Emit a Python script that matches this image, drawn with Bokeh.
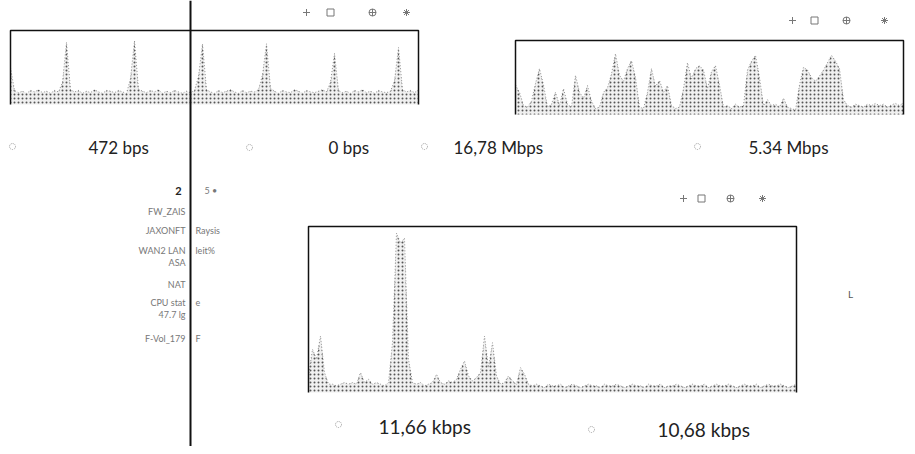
from bokeh.plotting import figure
from bokeh.models import Range1d, Span
from bokeh.core.properties import value
from bokeh.embed import file_html
from bokeh.resources import INLINE

# ---------------- data (normalised traffic, 1.0 = top of each sparkline) ----------------
wan_in = [0.50, 0.19, 0.16, 0.18, 0.15, 0.19, 0.17, 0.20, 0.16, 0.18,
          0.15, 0.19, 0.17, 0.30, 0.84, 0.20, 0.17, 0.19, 0.15, 0.18,
          0.16, 0.20, 0.17, 0.15, 0.19, 0.18, 0.16, 0.19, 0.17, 0.15,
          0.35, 0.86, 0.21, 0.18, 0.16, 0.19, 0.17, 0.20, 0.15, 0.18,
          0.16, 0.19, 0.17, 0.15, 0.18, 0.16, 0.19, 0.38, 0.82, 0.20,
          0.17, 0.15, 0.19, 0.16, 0.18, 0.20, 0.17, 0.15, 0.19, 0.16,
          0.18, 0.17, 0.20, 0.40, 0.82, 0.22, 0.18, 0.15, 0.19, 0.17,
          0.16, 0.20, 0.18, 0.15, 0.19, 0.17, 0.16, 0.18, 0.20, 0.17,
          0.30, 0.69, 0.19, 0.16, 0.18, 0.15, 0.19, 0.17, 0.20, 0.16,
          0.18, 0.15, 0.19, 0.17, 0.16, 0.18, 0.32, 0.77, 0.20, 0.17,
          0.19, 0.16, 0.20]

lan_in = [0.40, 0.30, 0.12, 0.10, 0.18, 0.42, 0.62, 0.40, 0.10, 0.14,
          0.30, 0.12, 0.35, 0.14, 0.10, 0.53, 0.30, 0.22, 0.39, 0.18,
          0.08, 0.10, 0.30, 0.36, 0.55, 0.82, 0.53, 0.45, 0.62, 0.73,
          0.50, 0.10, 0.08, 0.30, 0.62, 0.38, 0.46, 0.30, 0.39, 0.12,
          0.08, 0.10, 0.35, 0.70, 0.48, 0.62, 0.66, 0.60, 0.35, 0.58,
          0.66, 0.40, 0.10, 0.12, 0.08, 0.14, 0.10, 0.12, 0.60, 0.72,
          0.80, 0.50, 0.12, 0.20, 0.12, 0.14, 0.10, 0.22, 0.10, 0.08,
          0.06, 0.40, 0.64, 0.60, 0.50, 0.45, 0.52, 0.60, 0.70, 0.80,
          0.72, 0.62, 0.20, 0.12, 0.10, 0.14, 0.12, 0.10, 0.14, 0.12,
          0.15, 0.12, 0.14, 0.10, 0.13, 0.15, 0.12, 0.16]

vpn_in = [0.10, 0.26, 0.20, 0.34, 0.12, 0.05,
          0.05, 0.04, 0.05, 0.06, 0.05, 0.06, 0.05,
          0.12, 0.06, 0.08,
          0.05, 0.06, 0.05, 0.04, 0.06,
          0.30, 0.96, 0.90, 0.93, 0.20, 0.06,
          0.05, 0.06, 0.04, 0.05, 0.06,
          0.11, 0.06, 0.05, 0.07, 0.06, 0.08, 0.14, 0.19, 0.10, 0.07,
          0.09, 0.12, 0.34, 0.15, 0.30, 0.10, 0.05, 0.06, 0.10, 0.07,
          0.05, 0.15, 0.11, 0.05,
          0.04, 0.05, 0.04, 0.03, 0.05, 0.04, 0.04, 0.05, 0.03, 0.04,
          0.05, 0.04, 0.03, 0.04, 0.05, 0.04, 0.04, 0.03, 0.05, 0.04,
          0.04, 0.05, 0.04, 0.03, 0.04, 0.05, 0.04, 0.04, 0.03, 0.05,
          0.04, 0.04, 0.05, 0.03, 0.04, 0.04, 0.05, 0.04, 0.03, 0.04,
          0.05, 0.04, 0.04, 0.05, 0.03, 0.04, 0.05, 0.04, 0.04, 0.05,
          0.04, 0.03, 0.04, 0.05, 0.04, 0.04, 0.05, 0.03, 0.04, 0.05,
          0.04, 0.04, 0.05, 0.04, 0.03, 0.04, 0.05]

rate_labels_top = ["472 bps", "0 bps", "16,78 Mbps", "5.34 Mbps"]
rate_labels_bottom = ["11,66 kbps", "10,68 kbps"]

side_names = ["FW_ZAIS", "JAXONFT", "WAN2 LAN", "ASA", "NAT", "CPU stat", "47.7 lg", "F-Vol_179"]
side_values = ["Raysis", "leit%", "e", "F"]

# ---------------- canvas ----------------
W, H = 907, 446


def frame_ranges(n, left, right, top, bottom, vmax=1.0):
    xs = (n - 1) / (right - left)
    x0 = -left * xs
    ys = vmax / (bottom - top)
    y0 = -(H - bottom) * ys
    return Range1d(x0, x0 + W * xs), Range1d(y0, y0 + H * ys)


p = figure(width=W, height=H, x_range=Range1d(0, W), y_range=Range1d(H, 0),
           output_backend="svg", toolbar_location=None,
           x_axis_location=None, y_axis_location=None,
           min_border=0, outline_line_color=None, background_fill_color="white")
p.min_border_left = p.min_border_right = p.min_border_top = p.min_border_bottom = 0
p.xgrid.visible = False
p.ygrid.visible = False

charts = [
    ("c1", wan_in, 10, 418, 30, 104),
    ("c2", lan_in, 515, 903, 40, 114),
    ("c3", vpn_in, 308, 796, 226, 392),
]
xr, yr = {}, {}
for name, vals, l, r, t, b in charts:
    xr[name], yr[name] = frame_ranges(len(vals), l, r, t, b)
p.extra_x_ranges = xr
p.extra_y_ranges = yr

for name, vals, l, r, t, b in charts:
    n = len(vals)
    idx = list(range(n))
    p.varea(x=idx, y1=0, y2=vals, x_range_name=name, y_range_name=name,
            fill_color="#f0f0f0", fill_alpha=1.0,
            hatch_pattern="dot", hatch_color="#555555", hatch_scale=4, hatch_weight=1)
    p.line(idx, vals, x_range_name=name, y_range_name=name,
           line_color="#777777", line_width=0.8, line_dash="1 2")
    p.line(x=[0, 0, n - 1, n - 1], y=[0, 1, 1, 0], x_range_name=name, y_range_name=name,
           line_color="#111111", line_width=1.5)

# vertical divider
p.add_layout(Span(location=190, dimension="height", line_color="#111111", line_width=2))

# rate values
p.text(x=[88, 328, 453, 748], y=[147, 147, 147, 147], text=rate_labels_top,
       text_font=value("Lato"), text_font_size="17px", text_color="#222222",
       text_baseline="middle", text_align="left")
p.text(x=[378, 657], y=[426, 429], text=rate_labels_bottom,
       text_font=value("Lato"), text_font_size="19px", text_color="#222222",
       text_baseline="middle", text_align="left")

# small in/out icons before the values
ix = [12, 249, 424, 697, 338, 591]
iy = [146, 147, 146, 146, 424, 429]
p.scatter(x=ix, y=iy, marker="circle",
          size=6, fill_color=None, line_color="#999999", line_width=1, line_dash="1 1")

# sidebar
p.text(x=[178], y=[190], text=["2"], text_font=value("Lato"), text_font_size="11px",
       text_font_style="bold", text_color="#222222", text_baseline="middle", text_align="center")
p.text(x=[204], y=[190], text=["5 •"], text_font=value("Lato"), text_font_size="9px",
       text_color="#777777", text_baseline="middle", text_align="left")
p.text(x=[185] * len(side_names), y=[211, 230, 250, 262, 284, 302, 314, 338],
       text=side_names, text_font=value("Lato"), text_font_size="9px", text_color="#777777",
       text_baseline="middle", text_align="right")
p.text(x=[195] * len(side_values), y=[230, 250, 302, 338],
       text=side_values, text_font=value("Lato"), text_font_size="9px", text_color="#777777",
       text_baseline="middle", text_align="left")
p.text(x=[850], y=[293], text=["L"], text_font=value("Lato"), text_font_size="10px",
       text_color="#555555", text_baseline="middle", text_align="center")

# toolbar marks above each sparkline
tb_markers = ["cross", "square", "circle_cross", "asterisk"]
for xs_, y_ in [([306, 330, 372, 406], 12), ([792, 814, 846, 884], 20), ([683, 701, 730, 762], 198)]:
    p.scatter(x=xs_, y=[y_] * 4, marker=tb_markers, size=7,
              fill_color=None, line_color="#777777", line_width=1)

open("out.html", "w").write(file_html(p, INLINE))
